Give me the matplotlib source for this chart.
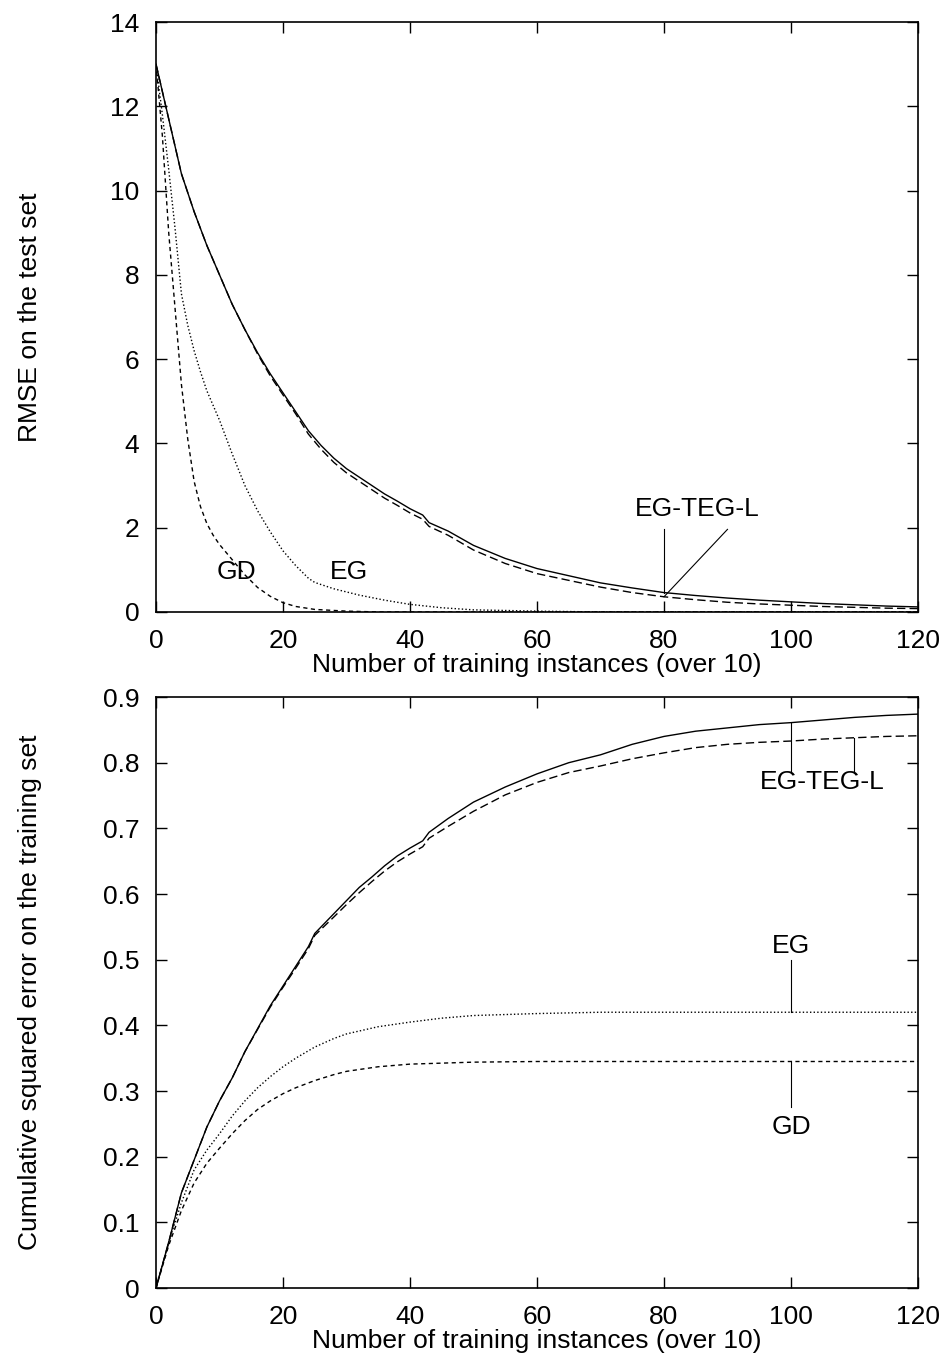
import matplotlib
matplotlib.use("Agg")
import matplotlib.pyplot as plt

plt.rcParams['font.family'] = ['Liberation Sans', 'DejaVu Sans']

# ---------------- Top panel data: RMSE on the test set ----------------
top_teg_x = [0, 2, 4, 6, 8, 10, 12, 14, 16, 18, 20, 22, 24, 26, 28, 30, 32, 34, 36, 38,
             40, 42, 43, 46, 50, 55, 60, 65, 70, 75, 80, 85, 90, 95, 100, 105, 110, 115, 120]
top_eg_teg_solid = [13.0, 11.7, 10.4, 9.5, 8.7, 8.0, 7.3, 6.7, 6.15, 5.65, 5.2, 4.75, 4.3, 3.95,
                    3.65, 3.4, 3.2, 3.0, 2.8, 2.63, 2.45, 2.3, 2.12, 1.92, 1.58, 1.27, 1.03, 0.86,
                    0.69, 0.57, 0.46, 0.39, 0.33, 0.28, 0.24, 0.2, 0.17, 0.14, 0.12]
top_eg_teg_dashed = [13.0, 11.7, 10.4, 9.5, 8.7, 8.0, 7.3, 6.7, 6.12, 5.6, 5.15, 4.7, 4.22, 3.86,
                     3.55, 3.3, 3.1, 2.9, 2.7, 2.53, 2.35, 2.2, 2.03, 1.82, 1.47, 1.15, 0.91, 0.75,
                     0.59, 0.46, 0.36, 0.29, 0.23, 0.19, 0.16, 0.13, 0.11, 0.09, 0.08]

top_gd_x = [0, 1, 2, 3, 4, 5, 6, 7, 8, 9, 10, 11, 12, 13, 14, 16, 18, 20, 22, 25, 30, 35, 120]
top_gd = [13.0, 11.3, 9.0, 7.2, 5.4, 4.1, 3.1, 2.5, 2.1, 1.82, 1.6, 1.42, 1.24, 1.06, 0.88,
          0.58, 0.37, 0.22, 0.13, 0.06, 0.02, 0.0, 0.0]

top_eg_x = [0, 1, 2, 3, 4, 5, 6, 7, 8, 9, 10, 12, 14, 16, 18, 20, 22, 24, 25, 28, 32, 36,
            40, 45, 50, 60, 70, 120]
top_eg = [13.0, 11.8, 10.5, 9.1, 7.55, 6.8, 6.2, 5.7, 5.25, 4.9, 4.55, 3.75, 3.0, 2.4, 1.9,
          1.45, 1.1, 0.8, 0.7, 0.55, 0.4, 0.28, 0.18, 0.1, 0.05, 0.02, 0.0, 0.0]

# ---------------- Bottom panel data: cumulative squared error ----------------
bot_teg_x = [0, 2, 4, 5, 8, 10, 12, 14, 16, 18, 20, 22, 24, 25, 28, 30, 32, 34, 36, 38, 40,
             42, 43, 46, 50, 55, 60, 65, 70, 75, 80, 85, 90, 95, 100, 105, 110, 115, 120]
bot_eg_teg_solid = [0.0, 0.07, 0.145, 0.17, 0.245, 0.285, 0.32, 0.36, 0.395, 0.43, 0.46, 0.49,
                    0.52, 0.54, 0.57, 0.59, 0.61, 0.626, 0.643, 0.658, 0.67, 0.681, 0.694, 0.715,
                    0.74, 0.763, 0.783, 0.80, 0.812, 0.828, 0.84, 0.848, 0.853, 0.858, 0.861,
                    0.865, 0.869, 0.872, 0.874]
bot_eg_teg_dashed = [0.0, 0.07, 0.145, 0.17, 0.245, 0.285, 0.32, 0.36, 0.394, 0.428, 0.458,
                     0.487, 0.517, 0.537, 0.565, 0.584, 0.602, 0.619, 0.635, 0.649, 0.661, 0.672,
                     0.685, 0.703, 0.726, 0.751, 0.77, 0.785, 0.795, 0.806, 0.815, 0.823, 0.828,
                     0.831, 0.833, 0.836, 0.838, 0.84, 0.841]

bot_eg_x = [0, 2, 4, 6, 8, 10, 12, 14, 16, 18, 20, 22, 25, 28, 30, 35, 40, 45, 50, 60, 70, 80, 120]
bot_eg = [0.0, 0.07, 0.13, 0.18, 0.21, 0.235, 0.262, 0.285, 0.305, 0.322, 0.337, 0.35, 0.367,
          0.38, 0.387, 0.398, 0.405, 0.411, 0.415, 0.418, 0.42, 0.42, 0.42]

bot_gd_x = [0, 2, 4, 6, 8, 10, 12, 14, 16, 18, 20, 22, 25, 28, 30, 35, 40, 50, 60, 120]
bot_gd = [0.0, 0.065, 0.118, 0.16, 0.19, 0.213, 0.235, 0.255, 0.272, 0.285, 0.296, 0.305,
          0.316, 0.325, 0.33, 0.337, 0.341, 0.344, 0.345, 0.345]

x_ticks = [0, 20, 40, 60, 80, 100, 120]
top_yticks = [0, 2, 4, 6, 8, 10, 12, 14]
bot_yticks = [0, 0.1, 0.2, 0.3, 0.4, 0.5, 0.6, 0.7, 0.8, 0.9]
bot_ytick_labels = ['0', '0.1', '0.2', '0.3', '0.4', '0.5', '0.6', '0.7', '0.8', '0.9']

xlabel = "Number of training instances (over 10)"
top_ylabel = "RMSE on the test set"
bot_ylabel = "Cumulative squared error on the training set"

FS = 19
LW = 1.0
TEG_DASH = (0, (6, 3))
GD_DASH = (0, (3, 2.5))
EG_DOT = (0, (1, 1.6))

fig = plt.figure(figsize=(9.45, 13.59), dpi=100)
ax1 = fig.add_axes([0.1651, 0.5497, 0.8063, 0.4341])
ax2 = fig.add_axes([0.1651, 0.0522, 0.8063, 0.4349])


def style(ax):
    ax.tick_params(direction='in', length=8, width=1.0, top=True, right=True,
                   labelsize=FS, pad=12)
    for s in ax.spines.values():
        s.set_linewidth(1.2)
    ax.set_xlim(0, 120)
    ax.set_xticks(x_ticks)
    ax.set_xlabel(xlabel, fontsize=FS, labelpad=0)


# Top
ax1.plot(top_teg_x, top_eg_teg_solid, color='black', lw=LW, linestyle='-')
ax1.plot(top_teg_x, top_eg_teg_dashed, color='black', lw=LW, linestyle=TEG_DASH)
ax1.plot(top_gd_x, top_gd, color='black', lw=LW, linestyle=GD_DASH)
ax1.plot(top_eg_x, top_eg, color='black', lw=LW, linestyle=EG_DOT)
style(ax1)
ax1.set_ylim(0, 14)
ax1.set_yticks(top_yticks)
ax1.set_ylabel(top_ylabel, fontsize=FS)
ax1.yaxis.set_label_coords(-0.150, 0.5)
ax1.text(12.6, 0.95, "GD", fontsize=FS, ha='center', va='center')
ax1.text(30.4, 0.95, "EG", fontsize=FS, ha='center', va='center')
ax1.text(85.2, 2.45, "EG-TEG-L", fontsize=FS, ha='center', va='center')
ax1.plot([80, 80], [1.96, 0.46], color='black', lw=0.8)
ax1.plot([90, 80], [1.96, 0.36], color='black', lw=0.8)

# Bottom
ax2.plot(bot_teg_x, bot_eg_teg_solid, color='black', lw=LW, linestyle='-')
ax2.plot(bot_teg_x, bot_eg_teg_dashed, color='black', lw=LW, linestyle=TEG_DASH)
ax2.plot(bot_eg_x, bot_eg, color='black', lw=LW, linestyle=EG_DOT)
ax2.plot(bot_gd_x, bot_gd, color='black', lw=LW, linestyle=GD_DASH)
style(ax2)
ax2.set_ylim(0, 0.9)
ax2.set_yticks(bot_yticks)
ax2.set_yticklabels(bot_ytick_labels)
ax2.set_ylabel(bot_ylabel, fontsize=FS)
ax2.yaxis.set_label_coords(-0.150, 0.5)
ax2.text(105, 0.77, "EG-TEG-L", fontsize=FS, ha='center', va='center')
ax2.plot([100, 100], [0.861, 0.785], color='black', lw=0.8)
ax2.plot([110, 110], [0.838, 0.785], color='black', lw=0.8)
ax2.text(100, 0.521, "EG", fontsize=FS, ha='center', va='center')
ax2.plot([100, 100], [0.499, 0.42], color='black', lw=0.8)
ax2.text(100, 0.245, "GD", fontsize=FS, ha='center', va='center')
ax2.plot([100, 100], [0.345, 0.276], color='black', lw=0.8)

fig.savefig("out.png", dpi=100)
